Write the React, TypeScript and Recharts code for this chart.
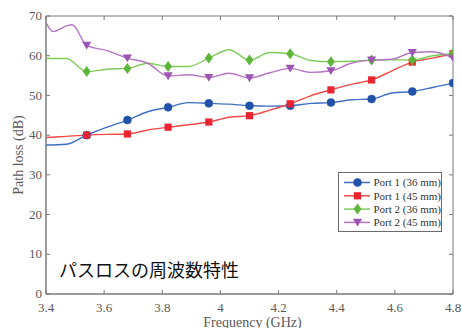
import React from 'react';
import { LineChart, Line, XAxis, YAxis, ReferenceArea, Legend } from 'recharts';

// ---- data ----
const freqs = [3.4, 3.47, 3.54, 3.61, 3.68, 3.75, 3.82, 3.89, 3.96, 4.03, 4.1, 4.17, 4.24, 4.31, 4.38, 4.45, 4.52, 4.59, 4.66, 4.73, 4.8];
const markerFreqs = [3.54, 3.68, 3.82, 3.96, 4.1, 4.24, 4.38, 4.52, 4.66, 4.8];
const port1_36 = [37.5, 37.7, 40.0, 42.0, 43.8, 45.9, 47.0, 48.2, 48.0, 47.8, 47.4, 47.3, 47.4, 48.0, 48.2, 48.9, 49.1, 50.6, 51.0, 52.0, 53.1];
const port1_45 = [39.4, 39.7, 40.0, 40.2, 40.3, 41.3, 42.0, 42.6, 43.3, 44.5, 44.9, 46.3, 47.9, 49.9, 51.4, 52.8, 53.9, 56.2, 58.4, 59.4, 60.5];
const port2_36 = [59.3, 59.3, 56.0, 56.6, 56.8, 58.1, 57.3, 57.3, 59.4, 61.5, 58.9, 60.8, 60.5, 58.8, 58.5, 58.6, 58.9, 59.0, 58.9, 60.0, 60.5];
const port2_45 = [68.3, 67.5, 62.6, 61.3, 59.4, 58.1, 54.9, 55.2, 54.5, 55.6, 54.4, 55.7, 56.8, 55.8, 56.2, 58.1, 58.9, 59.1, 60.8, 61.0, 59.4];
const port2_45ExtraFreqs = [3.425, 3.49];
const port2_45ExtraValues = [66.1, 67.8];
const seriesNames = ['Port 1 (36 mm)', 'Port 1 (45 mm)', 'Port 2 (36 mm)', 'Port 2 (45 mm)'];
const xTicks = [3.4, 3.6, 3.8, 4, 4.2, 4.4, 4.6, 4.8];
const yTicks = [0, 10, 20, 30, 40, 50, 60, 70];
const titleText = 'パスロスの周波数特性';
const xLabel = 'Frequency (GHz)';
const yLabel = 'Path loss (dB)';

// ---- styling ----
const AXIS = '#7a7a7a';
const TEXT = '#5a5a5a';
const SERIF = '"Liberation Serif", "Times New Roman", serif';
const PLOT_TOP = 16;
const PLOT_RIGHT = 453;

const toPoints = (fs: number[], vs: number[]) => fs.map((f, i) => ({ f, v: vs[i] }));
const merge = (a: { f: number; v: number }[], b: { f: number; v: number }[]) =>
  [...a, ...b].sort((p, q) => p.f - q.f);

const series = [
  { name: seriesNames[0], shape: 'circle', line: '#3f6fc2', marker: '#2152a8', data: toPoints(freqs, port1_36) },
  { name: seriesNames[1], shape: 'square', line: '#f24848', marker: '#ea2430', data: toPoints(freqs, port1_45) },
  { name: seriesNames[2], shape: 'diamond', line: '#7fcc5a', marker: '#5db53b', data: toPoints(freqs, port2_36) },
  {
    name: seriesNames[3],
    shape: 'triangle',
    line: '#b574c4',
    marker: '#9c55b2',
    data: merge(toPoints(freqs, port2_45), toPoints(port2_45ExtraFreqs, port2_45ExtraValues)),
  },
];

const isMarker = (f: number) => markerFreqs.some((m) => Math.abs(m - f) < 1e-6);

function Marker({ shape, cx, cy, color }: { shape: string; cx: number; cy: number; color: string }) {
  if (shape === 'circle') return <circle cx={cx} cy={cy} r={4} fill={color} stroke={color} strokeWidth={0.5} />;
  if (shape === 'square') return <rect x={cx - 3.6} y={cy - 3.6} width={7.2} height={7.2} fill={color} />;
  if (shape === 'diamond')
    return <polygon points={`${cx},${cy - 5.5} ${cx + 4},${cy} ${cx},${cy + 5.5} ${cx - 4},${cy}`} fill={color} />;
  return <polygon points={`${cx - 4.6},${cy - 3.6} ${cx + 4.6},${cy - 3.6} ${cx},${cy + 4.2}`} fill={color} />;
}

const makeDot = (shape: string, color: string) => (props: any) => {
  const { cx, cy, payload, index } = props;
  if (!payload || !isMarker(payload.f) || cx == null || cy == null) return <g key={`d${index}`} />;
  return (
    <g key={`d${index}`}>
      <Marker shape={shape} cx={cx} cy={cy} color={color} />
    </g>
  );
};

const XTick = (props: any) => {
  const { x, y, payload } = props;
  const v = payload.value;
  return (
    <g>
      <line x1={x} y1={y} x2={x} y2={y - 4} stroke={AXIS} />
      <line x1={x} y1={PLOT_TOP} x2={x} y2={PLOT_TOP + 4} stroke={AXIS} />
      <text x={x} y={y + 18} textAnchor="middle" fill={TEXT} fontSize={13} fontFamily={SERIF}>
        {String(v)}
      </text>
    </g>
  );
};

const YTick = (props: any) => {
  const { x, y, payload } = props;
  return (
    <g>
      <line x1={x} y1={y} x2={x + 4} y2={y} stroke={AXIS} />
      <line x1={PLOT_RIGHT} y1={y} x2={PLOT_RIGHT - 4} y2={y} stroke={AXIS} />
      <text x={x - 4} y={y + 4.2} textAnchor="end" fill={TEXT} fontSize={13} fontFamily={SERIF}>
        {String(payload.value)}
      </text>
    </g>
  );
};

const YLabel = (props: any) => {
  const vb = props.viewBox || { y: 16, height: 278 };
  const cy = vb.y + vb.height / 2;
  return (
    <text
      x={23}
      y={cy}
      transform={`rotate(-90 23 ${cy})`}
      textAnchor="middle"
      fill={TEXT}
      fontSize={14}
      fontFamily={SERIF}
    >
      {yLabel}
    </text>
  );
};

const XLabel = (props: any) => {
  const vb = props.viewBox || { x: 46, width: 407 };
  return (
    <text x={vb.x + vb.width / 2 + 3} y={327} textAnchor="middle" fill={TEXT} fontSize={14} fontFamily={SERIF}>
      {xLabel}
    </text>
  );
};

const LegendBox = () => (
  <div
    style={{
      width: 104,
      height: 60,
      boxSizing: 'border-box',
      border: '1px solid #6a6a6a',
      background: '#fff',
      position: 'relative',
      overflow: 'hidden',
    }}
  >
    <svg width={104} height={60} style={{ position: 'absolute', left: 0, top: 0 }}>
      {series.map((s, i) => {
        const cy = 9.5 + i * 13.3;
        return (
          <g key={s.name}>
            <line x1={5} y1={cy} x2={31} y2={cy} stroke={s.line} strokeWidth={1.5} />
            <Marker shape={s.shape} cx={18.5} cy={cy} color={s.marker} />
            <text x={34.5} y={cy + 3.8} fontSize={11} fontFamily={SERIF} fill="#333">
              {s.name}
            </text>
          </g>
        );
      })}
    </svg>
  </div>
);

export default function App() {
  return (
    <div style={{ position: 'absolute', left: 0, top: 0, width: 462, height: 328, background: '#fff', overflow: 'hidden' }}>
      <LineChart width={462} height={328} margin={{ top: PLOT_TOP, right: 462 - PLOT_RIGHT, bottom: 0, left: 0 }}>
        <XAxis
          dataKey="f"
          type="number"
          domain={[3.4, 4.8]}
          ticks={xTicks}
          allowDataOverflow
          tick={XTick}
          tickLine={false}
          tickSize={0}
          tickMargin={0}
          height={34}
          axisLine={{ stroke: AXIS }}
          label={<XLabel />}
          interval={0}
        />
        <YAxis
          type="number"
          domain={[0, 70]}
          ticks={yTicks}
          allowDataOverflow
          tick={YTick}
          tickLine={false}
          tickSize={0}
          tickMargin={0}
          width={46}
          axisLine={{ stroke: AXIS }}
          label={<YLabel />}
          interval={0}
        />
        <ReferenceArea x1={3.4} x2={4.8} y1={0} y2={70} fill="none" stroke={AXIS} strokeWidth={1} ifOverflow="visible" />
        {series.map((s) => (
          <Line
            key={s.name}
            data={s.data}
            dataKey="v"
            name={s.name}
            type="monotoneX"
            stroke={s.line}
            strokeWidth={1.4}
            dot={makeDot(s.shape, s.marker)}
            activeDot={false}
            isAnimationActive={false}
          />
        ))}
        <Legend
          layout="vertical"
          align="center"
          verticalAlign="middle"
          content={() => <LegendBox />}
          wrapperStyle={{ left: 338, top: 172, width: 104, height: 60 }}
        />
      </LineChart>
      <div
        style={{
          position: 'absolute',
          left: 59,
          top: 260,
          fontSize: 18,
          lineHeight: '18px',
          fontFamily: '"Noto Sans CJK JP", sans-serif',
          color: '#111',
          whiteSpace: 'nowrap',
        }}
      >
        {titleText}
      </div>
    </div>
  );
}
